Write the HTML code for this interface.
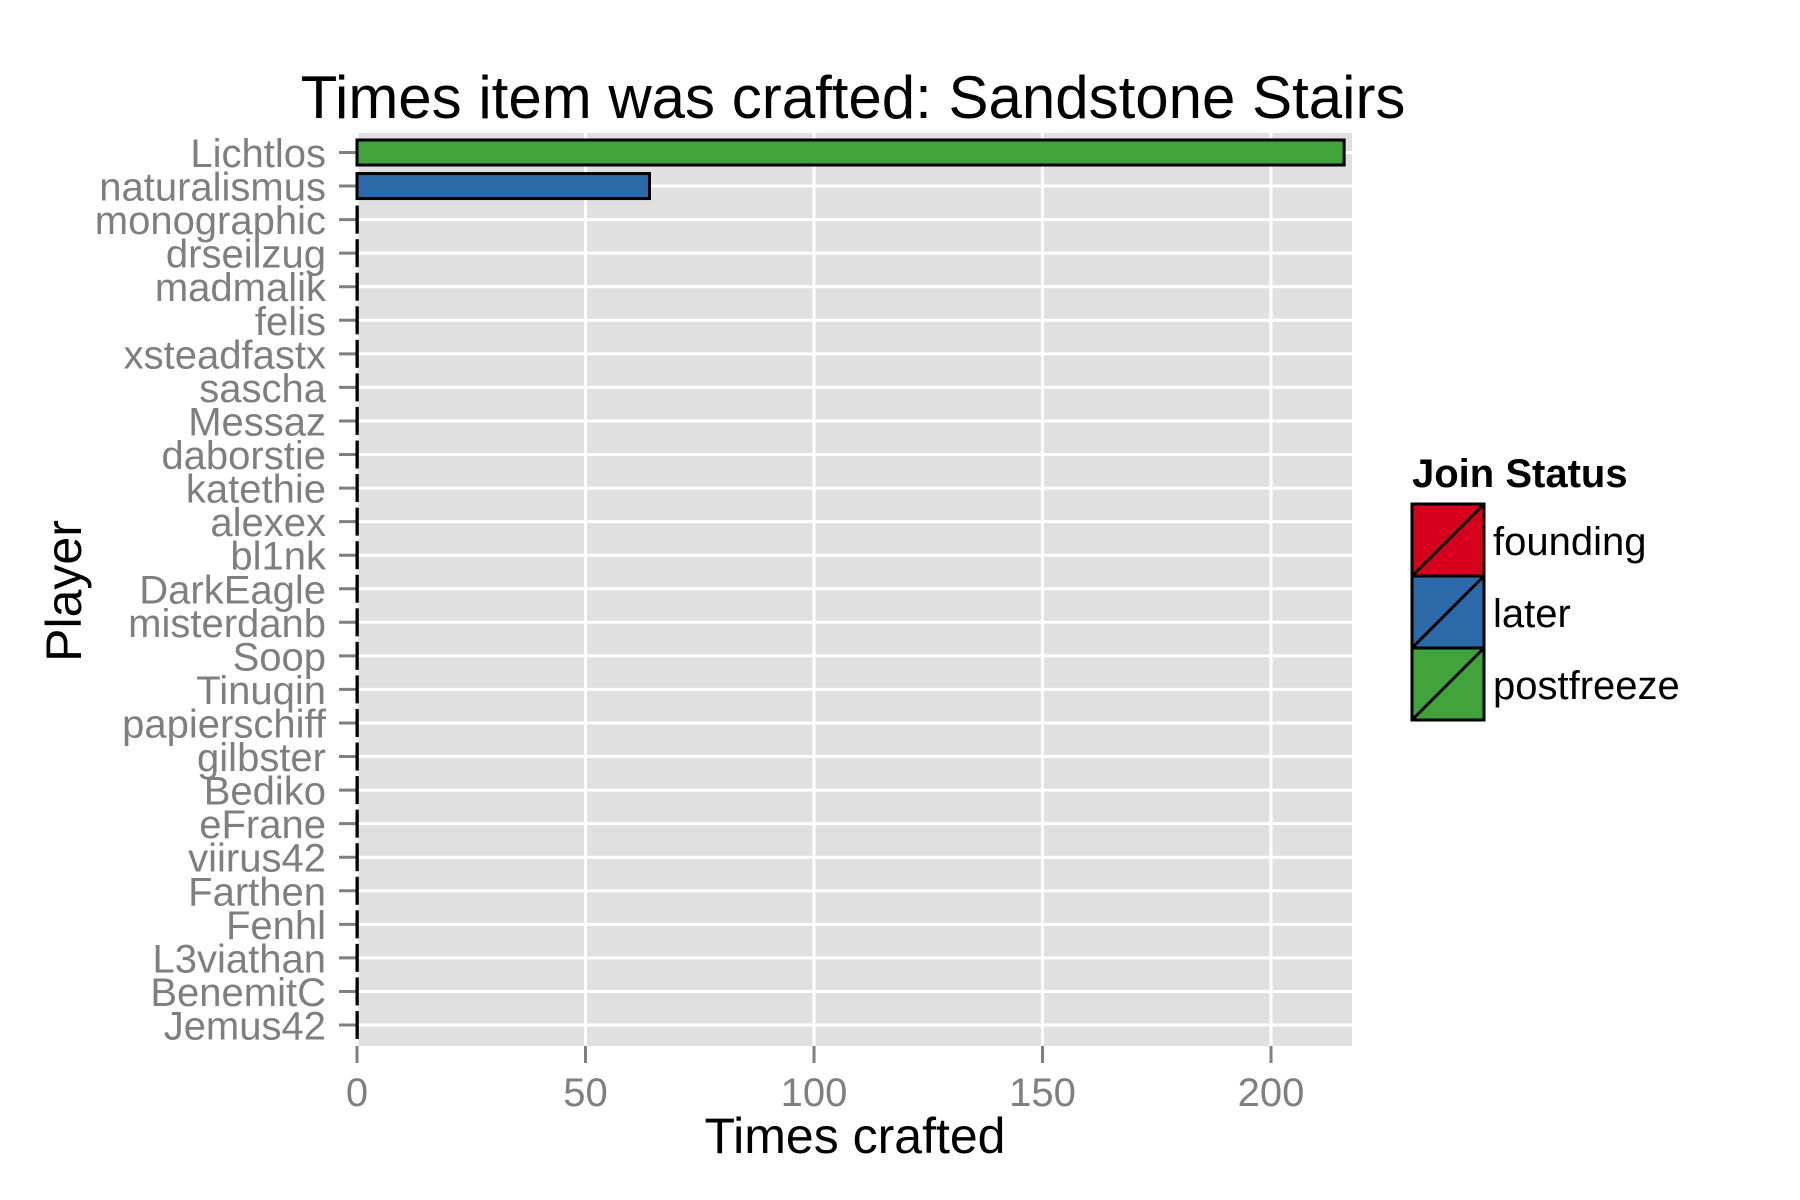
<!DOCTYPE html>
<html><head><meta charset="utf-8"><style>
html,body{margin:0;padding:0;background:#fff}
svg{display:block;font-family:"Liberation Sans",Arial,sans-serif}
</style></head><body>
<svg id="chart" width="1800" height="1200" viewBox="0 0 1800 1200" xmlns="http://www.w3.org/2000/svg">
<rect x="0" y="0" width="1800" height="1200" fill="#fff"/>
<text x="853" y="118" font-size="60" text-anchor="middle" fill="#000">Times item was crafted: Sandstone Stairs</text>
<text transform="translate(81,591) rotate(-90)" font-size="50" text-anchor="middle" fill="#000">Player</text>
<text x="855" y="1153" font-size="50" text-anchor="middle" fill="#000">Times crafted</text>
<g id="legend">
<text x="1412" y="487" font-size="40" font-weight="bold" fill="#000">Join Status</text>
</g>
<g id="plot"></g>
</svg>
<script>
const players = ["Lichtlos","naturalismus","monographic","drseilzug","madmalik","felis","xsteadfastx","sascha","Messaz","daborstie","katethie","alexex","bl1nk","DarkEagle","misterdanb","Soop","Tinuqin","papierschiff","gilbster","Bediko","eFrane","viirus42","Farthen","Fenhl","L3viathan","BenemitC","Jemus42"];
const counts = [216,64,0,0,0,0,0,0,0,0,0,0,0,0,0,0,0,0,0,0,0,0,0,0,0,0,0];
const statuses = ["postfreeze","later","postfreeze","later","later","later","later","later","later","later","later","later","later","later","later","later","later","later","later","later","later","later","later","later","later","later","later"];
const xTicks = [0,50,100,150,200];
const legendLabels = ["founding","later","postfreeze"];

const colors = {founding:"#d7001c", later:"#2c69a9", postfreeze:"#41a33b"};
const NS = "http://www.w3.org/2000/svg";
const panel = {left:357, right:1352, top:133, bottom:1046};
const xPx = v => 357 + v * 4.57;
const rowStep = (1025 - 152.5) / (players.length - 1);
const yPx = i => 152.5 + i * rowStep;
const barH = 25;
const g = document.getElementById('plot');
function mk(tag, attrs, parent){
  const e = document.createElementNS(NS, tag);
  for (const k in attrs) e.setAttribute(k, attrs[k]);
  (parent || g).appendChild(e);
  return e;
}
const bg = mk('rect', {x:panel.left, y:panel.top, width:panel.right-panel.left, height:panel.bottom-panel.top, fill:'#e0e0e0'});


xTicks.forEach(t => {
  const l = mk('line', {x1:xPx(t), x2:xPx(t), y1:panel.top, y2:panel.bottom, stroke:'#fff', 'stroke-width':3});
  
  
  const tk = mk('line', {x1:xPx(t), x2:xPx(t), y1:panel.bottom, y2:panel.bottom+17, stroke:'#7f7f7f', 'stroke-width':3});
  
  
  const tx = mk('text', {x:xPx(t), y:1106, 'font-size':40, 'text-anchor':'middle', fill:'#7f7f7f'});
  tx.textContent = t;
  
  
});
players.forEach((p, i) => {
  const y = yPx(i);
  const l = mk('line', {x1:panel.left, x2:panel.right, y1:y, y2:y, stroke:'#fff', 'stroke-width':3});
  
  
  const tk = mk('line', {x1:339, x2:357, y1:y, y2:y, stroke:'#7f7f7f', 'stroke-width':3});
  
  
  const tx = mk('text', {x:326, y:y+14.5, 'font-size':40, 'text-anchor':'end', fill:'#7f7f7f'});
  tx.textContent = p;
  
  
});
players.forEach((p, i) => {
  const y = yPx(i);
  const w = Math.max(xPx(counts[i]) - xPx(0), 0.3);
  const b = mk('rect', {x:xPx(0), y:y-barH/2, width:w, height:barH, fill:colors[statuses[i]], stroke:'#000', 'stroke-width':3});
  
  
});
const lg = document.getElementById('legend');
legendLabels.forEach((lab, i) => {
  const y0 = 504 + i * 72;
  const r = mk('rect', {x:1412, y:y0, width:72, height:72, fill:colors[lab], stroke:'#000', 'stroke-width':3}, lg);
  
  
  const d = mk('line', {x1:1412, y1:y0+72, x2:1484, y2:y0, stroke:'#000', 'stroke-width':3}, lg);
  
  
  const t = mk('text', {x:1493, y:y0+51, 'font-size':40, fill:'#000'}, lg);
  t.textContent = lab;
  
  
});
</script>
</body></html>
